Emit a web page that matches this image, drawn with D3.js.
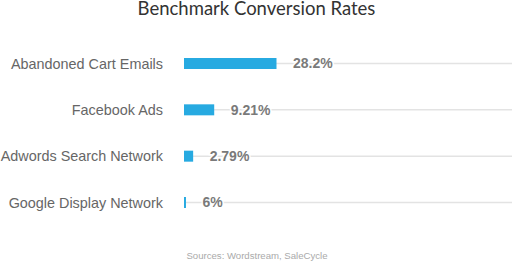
<!DOCTYPE html>
<html>
<head>
<meta charset="utf-8">
<script src="https://cdn.jsdelivr.net/npm/d3@7"></script>
<style>
  body { margin: 0; background: #fff; }
  svg { display: block; }
</style>
</head>
<body>
<svg></svg>
<script>
// data
var categories = ["Abandoned Cart Emails", "Facebook Ads", "Adwords Search Network", "Google Display Network"];
var values = [28.2, 9.21, 2.79, 0.6];
var valueLabels = ["28.2%", "9.21%", "2.79%", "6%"];

var svgWidth = 512;
var svgHeight = 262;

var svg = d3.select("svg")
  .attr("width", svgWidth)
  .attr("height", svgHeight);

var x = d3.scaleLinear()
  .domain([0, 100])
  .range([184, 512]);

var y = d3.scalePoint()
  .domain(categories)
  .range([63.5, 202.5]);

var barHeight = 11;

// title
svg.append("text")
  .attr("x", 256.5)
  .attr("y", 15)
  .attr("text-anchor", "middle")
  .style("font-family", "Lato, sans-serif")
  .style("font-size", "18.5px")
  .attr("fill", "#333")
  .text("Benchmark Conversion Rates");

// grid lines behind each bar
svg.selectAll(".grid")
  .data(categories)
  .enter()
  .append("line")
  .attr("class", "grid")
  .attr("x1", x(0))
  .attr("x2", svgWidth)
  .attr("y1", function(d) { return y(d); })
  .attr("y2", function(d) { return y(d); })
  .attr("stroke", "#e3e3e3")
  .attr("stroke-width", 1.5);

// bars
svg.selectAll(".bar")
  .data(values)
  .enter()
  .append("rect")
  .attr("class", "bar")
  .attr("x", x(0))
  .attr("y", function(d, i) { return y(categories[i]) - barHeight / 2; })
  .attr("width", function(d) { return Math.max(x(d) - x(0), 1.5); })
  .attr("height", barHeight)
  .attr("fill", "#27aae1");

// category labels
svg.selectAll(".cat")
  .data(categories)
  .enter()
  .append("text")
  .attr("class", "cat")
  .attr("x", 163)
  .attr("y", function(d) { return y(d); })
  .attr("dy", "0.35em")
  .attr("text-anchor", "end")
  .style("font-family", "'Liberation Sans', Arial, sans-serif")
  .style("font-size", "14.4px")
  .attr("fill", "#666")
  .text(function(d) { return d; });

// value labels, white halo so the grid line breaks around them
svg.selectAll(".val")
  .data(values)
  .enter()
  .append("text")
  .attr("class", "val")
  .attr("x", function(d) { return Math.max(x(d), x(0) + 1.5) + 16.5; })
  .attr("y", function(d, i) { return y(categories[i]); })
  .attr("dy", "0.35em")
  .style("font-family", "'Liberation Sans', Arial, sans-serif")
  .style("font-size", "14px")
  .style("font-weight", "bold")
  .style("paint-order", "stroke")
  .attr("stroke", "#fff")
  .attr("stroke-width", 3)
  .attr("fill", "#7a7a7a")
  .text(function(d, i) { return valueLabels[i]; });

// source note
svg.append("text")
  .attr("x", 257)
  .attr("y", 259)
  .attr("text-anchor", "middle")
  .style("font-family", "'Liberation Sans', Arial, sans-serif")
  .style("font-size", "9.6px")
  .attr("fill", "#aaa")
  .text("Sources: Wordstream, SaleCycle");
</script>
</body>
</html>
